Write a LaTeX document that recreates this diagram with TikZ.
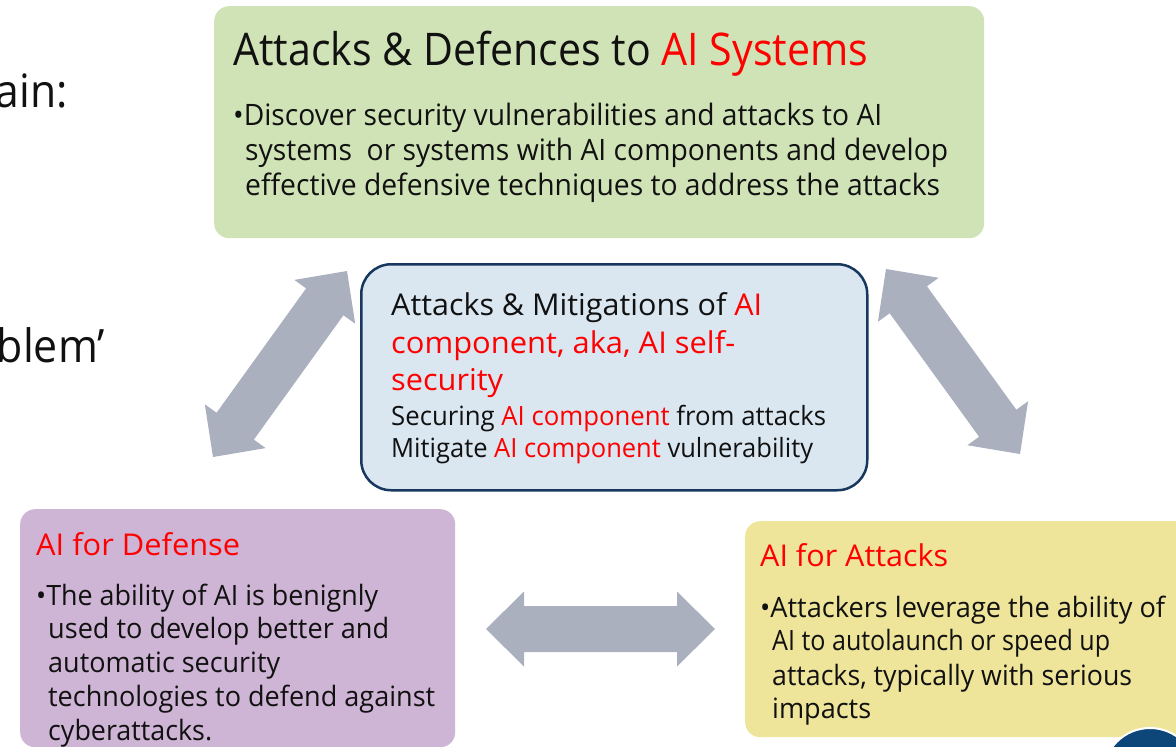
\documentclass[tikz,border=0pt]{standalone}
\usepackage{fontspec}
\setmainfont{Open Sans}
\usepackage{graphicx}
\usetikzlibrary{calc}
\definecolor{boxgreen}{HTML}{D0E3B6}
\definecolor{boxblue}{HTML}{DAE7F1}
\definecolor{boxnavy}{HTML}{17375E}
\definecolor{boxpurple}{HTML}{CEB4D5}
\definecolor{boxyellow}{HTML}{EEE49A}
\definecolor{arrowgray}{HTML}{ABB0BF}
\definecolor{aired}{HTML}{FF0000}
\definecolor{txt}{HTML}{111111}
\definecolor{dotblue}{HTML}{0D4679}
\newcommand\fitw[2]{\resizebox{#1}{\height}{#2}}
\newcommand\rdx[1]{\textcolor{aired}{#1}}
\newcommand\dblarrow[2]{%
  \coordinate (#1h) at ($(#1)!38pt!(#2)$);
  \coordinate (#2h) at ($(#2)!38pt!(#1)$);
  \fill[arrowgray] (#1) -- ($(#1h)!37.5pt!90:(#2)$) -- ($(#1h)!23pt!90:(#2)$)
    -- ($(#2h)!23pt!-90:(#1)$) -- ($(#2h)!37.5pt!-90:(#1)$) -- (#2)
    -- ($(#2h)!37.5pt!90:(#1)$) -- ($(#2h)!23pt!90:(#1)$)
    -- ($(#1h)!23pt!-90:(#2)$) -- ($(#1h)!37.5pt!-90:(#2)$) -- cycle;}
\begin{document}
\begin{tikzpicture}[x=1pt,y=-1pt,
  panel/.style={rectangle, rounded corners=15pt, anchor=north west, inner sep=0pt, draw=none},
  textline/.style={anchor=base west, inner sep=0pt, text=txt},
  fbig/.style={font=\fontsize{45}{54}\selectfont},
  fhead/.style={font=\fontsize{30}{36}\selectfont},
  fbody/.style={font=\fontsize{29.5}{35}\selectfont},
  fmid/.style={font=\fontsize{26.5}{32}\selectfont},
  fsmall/.style={font=\fontsize{28}{34}\selectfont},
  fside/.style={font=\fontsize{46}{55}\selectfont}]
\useasboundingbox (0,0) rectangle (1176,747);
\fill[white] (0,0) rectangle (1176,747);

% side texts (cut off at the left edge)
\node[anchor=base east, inner sep=0pt, text=txt, fside] (side1) at (68,107) {\fitw{72pt}{ain:}};
\node[anchor=base east, inner sep=0pt, text=txt, fside] (side2) at (105,362) {\fitw{108pt}{blem’}};

% panels
\node[panel, fill=boxgreen, minimum width=770pt, minimum height=232pt] (green) at (214,6) {};
\node[panel, fill=boxblue, draw=boxnavy, line width=2.5pt, rounded corners=30pt,
      minimum width=506pt, minimum height=226pt] (center) at (360,263) {};
\node[panel, fill=boxpurple, minimum width=435pt, minimum height=238pt] (purple) at (20,509) {};
\node[panel, fill=boxyellow, minimum width=460pt, minimum height=216pt] (yellow) at (745,521) {};

% corner disc
\fill[dotblue, draw=white, line width=2pt] (1150,775) circle (47pt);

% arrows
\coordinate (la1) at (213,457); \coordinate (la2) at (347,271);
\coordinate (ra1) at (886,269); \coordinate (ra2) at (1020,454);
\coordinate (ha1) at (486,629); \coordinate (ha2) at (715,629);
\dblarrow{la1}{la2}
\dblarrow{ra1}{ra2}
\dblarrow{ha1}{ha2}

% green panel text
\node[textline, fbig] (gt) at (233,65) {\fitw{635pt}{Attacks \& Defences to \rdx{AI Systems}}};
\node[textline, fbody] (g1) at (233,125) {\fitw{649pt}{•Discover security vulnerabilities and attacks to AI}};
\node[textline, fbody] (g2) at (245,160) {\fitw{703pt}{systems\ \ or systems with AI components and develop}};
\node[textline, fbody] (g3) at (245,195) {\fitw{695pt}{effective defensive techniques to address the attacks}};

% center panel text
\node[textline, fhead] (c1) at (391,315) {\fitw{371pt}{Attacks \& Mitigations of \rdx{AI}}};
\node[textline, fhead] (c2) at (391,353) {\fitw{344pt}{\rdx{component, aka, AI self-}}};
\node[textline, fhead] (c3) at (391,390) {\fitw{112pt}{\rdx{security}}};
\node[textline, fmid] (c4) at (391,425) {\fitw{435pt}{Securing \rdx{AI component} from attacks}};
\node[textline, fmid] (c5) at (391,457) {\fitw{422pt}{Mitigate \rdx{AI component} vulnerability}};

% purple panel text
\node[textline, fhead] (p0) at (36,555) {\fitw{204pt}{\rdx{AI for Defense}}};
\node[textline, fsmall] (p1) at (36,605) {\fitw{342pt}{•The ability of AI is benignly}};
\node[textline, fsmall] (p2) at (48,638) {\fitw{341pt}{used to develop better and}};
\node[textline, fsmall] (p3) at (48,672) {\fitw{232pt}{automatic security}};
\node[textline, fsmall] (p4) at (48,706) {\fitw{387pt}{technologies to defend against}};
\node[textline, fsmall] (p5) at (48,740) {\fitw{164pt}{cyberattacks.}};

% yellow panel text
\node[textline, fhead] (y0) at (760,566) {\fitw{188pt}{\rdx{AI for Attacks}}};
\node[textline, fsmall] (y1) at (760,617) {\fitw{405pt}{•Attackers leverage the ability of}};
\node[textline, fsmall] (y2) at (772,650) {\fitw{338pt}{AI to autolaunch or speed up}};
\node[textline, fsmall] (y3) at (772,685) {\fitw{360pt}{attacks, typically with serious}};
\node[textline, fsmall] (y4) at (772,718) {\fitw{99pt}{impacts}};
\end{tikzpicture}
\end{document}
